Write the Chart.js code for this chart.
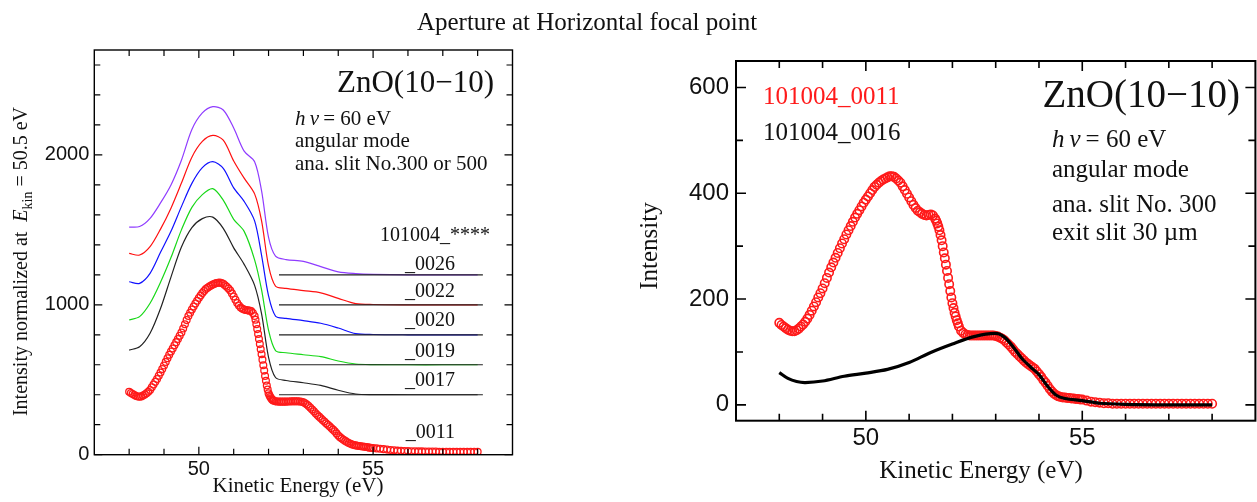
<!DOCTYPE html>
<html lang="en">
<head>
  <meta charset="UTF-8">
  <title>Aperture at Horizontal focal point</title>
  <script src="https://cdn.jsdelivr.net/npm/chart.js"></script>
  <style>
    body { margin: 0; background: #fff; width: 1257px; height: 502px; position: relative; overflow: hidden; font-family: 'Liberation Serif', serif; }
    #title { position: absolute; left: 0; top: 9px; width: 1174px; text-align: center; font-size: 25px; line-height: 25px; color: #111; }
    .panel { position: absolute; top: 0; height: 502px; }
    #left { left: 0; width: 620px; }
    #right { left: 620px; width: 637px; }
  </style>
</head>
<body>
  <div class="panel" id="left"><canvas id="leftChart" width="620" height="502"></canvas></div>
  <div class="panel" id="right"><canvas id="rightChart" width="637" height="502"></canvas></div>
  <div id="title">Aperture at Horizontal focal point</div>

  <script>
    // ---- data ----
    // kinetic energy grid for the circle-marker scans (eV)
    const energy = [
      48.00, 48.05, 48.10, 48.15, 48.20, 48.25, 48.30, 48.35, 48.40, 48.45,
      48.50, 48.55, 48.60, 48.65, 48.70, 48.75, 48.80, 48.85, 48.90, 48.95,
      49.00, 49.05, 49.10, 49.15, 49.20, 49.25, 49.30, 49.35, 49.40, 49.45,
      49.50, 49.55, 49.60, 49.65, 49.70, 49.75, 49.80, 49.85, 49.90, 49.95,
      50.00, 50.05, 50.10, 50.15, 50.20, 50.25, 50.30, 50.35, 50.40, 50.45,
      50.50, 50.55, 50.60, 50.65, 50.70, 50.75, 50.80, 50.85, 50.90, 50.95,
      51.00, 51.05, 51.10, 51.15, 51.20, 51.25, 51.30, 51.35, 51.40, 51.45,
      51.50, 51.55, 51.60, 51.65, 51.70, 51.75, 51.80, 51.85, 51.90, 51.95,
      52.00, 52.05, 52.10, 52.15, 52.20, 52.25, 52.30, 52.35, 52.40, 52.45,
      52.50, 52.55, 52.60, 52.65, 52.70, 52.75, 52.80, 52.85, 52.90, 52.95,
      53.00, 53.05, 53.10, 53.15, 53.20, 53.25, 53.30, 53.35, 53.40, 53.45,
      53.50, 53.55, 53.60, 53.65, 53.70, 53.75, 53.80, 53.85, 53.90, 53.95,
      54.00, 54.05, 54.10, 54.15, 54.20, 54.25, 54.30, 54.35, 54.40, 54.45,
      54.50, 54.55, 54.60, 54.65, 54.70, 54.75, 54.80, 54.85, 54.90, 54.95,
      55.0, 55.1, 55.2, 55.3, 55.4, 55.5, 55.6, 55.7, 55.8, 55.9,
      56.0, 56.1, 56.2, 56.3, 56.4, 56.5, 56.6, 56.7, 56.8, 56.9,
      57.0, 57.1, 57.2, 57.3, 57.4, 57.5, 57.6, 57.7, 57.8, 57.9,
      58.0
    ];
    // 101004_0011 raw intensity (right panel)
    const scan0011 = [
      155, 151, 148, 145, 142, 140, 139, 139, 141, 144,
      148, 152, 157, 163, 170, 178, 186, 194, 203, 211,
      220, 230, 240, 250, 260, 269, 278, 287, 296, 305,
      313, 322, 330, 338, 346, 354, 361, 368, 375, 382,
      388, 394, 400, 406, 412, 416, 420, 423, 426, 428,
      430, 432, 432, 431, 428, 424, 420, 413, 406, 399,
      392, 385, 378, 372, 367, 364, 361, 359, 358, 359,
      360, 358, 352, 343, 330, 311, 288, 265, 240, 215,
      192, 174, 160, 148, 140, 136, 133, 132, 131, 131,
      131, 131, 131, 131, 131, 131, 131, 131, 131, 131,
      130, 129, 127, 125, 122, 118, 114, 110, 105, 100,
      96, 92, 88, 84, 80, 77, 74, 71, 68, 63,
      58, 53, 47, 42, 36, 30, 25, 21, 18, 16,
      15, 14, 14, 13, 13, 12, 12, 11, 11, 10,
      10, 8, 6, 5, 4, 3, 3, 2, 2, 2,
      2, 2, 2, 2, 2, 2, 2, 2, 2, 2,
      2, 2, 2, 2, 2, 2, 2, 2, 2, 2,
      2
    ];
    // 101004_0011 normalized (left panel)
    const norm0011 = [
      420, 412, 405, 398, 392, 388, 387, 389, 395, 402,
      410, 420, 432, 450, 468, 486, 505, 526, 548, 571,
      595, 619, 643, 666, 688, 709, 730, 751, 772, 793,
      815, 842, 870, 898, 925, 947, 968, 988, 1008, 1027,
      1045, 1062, 1078, 1092, 1105, 1114, 1122, 1129, 1135, 1140,
      1145, 1147, 1148, 1145, 1140, 1131, 1120, 1108, 1095, 1076,
      1055, 1033, 1012, 995, 982, 974, 968, 965, 963, 961,
      958, 945, 925, 870, 805, 738, 670, 597, 525, 462,
      410, 385, 368, 360, 356, 355, 354, 354, 354, 354,
      354, 355, 355, 356, 356, 356, 356, 356, 355, 353,
      350, 343, 335, 325, 313, 302, 290, 277, 265, 254,
      243, 232, 221, 210, 200, 189, 178, 167, 156, 142,
      128, 117, 108, 100, 92, 85, 78, 73, 68, 65,
      62, 60, 58, 56, 55, 53, 51, 49, 47, 45,
      44, 42, 40, 37, 34, 31, 29, 27, 26, 25,
      24, 23, 23, 22, 22, 21, 21, 21, 21, 20,
      20, 20, 20, 20, 20, 20, 20, 20, 20, 20,
      20
    ];
    // extra samples on the steep edge (51.6 - 52.1 eV), same scan 0011
    const edgeEnergy = [51.625, 51.675, 51.725, 51.775, 51.825, 51.875, 51.925, 51.975, 52.025, 52.075, 52.125];
    const edgeScan0011 = [348, 337, 321, 300, 277, 253, 228, 203, 183, 167, 154];
    const edgeNorm0011 = [900, 838, 772, 704, 634, 561, 493, 435, 396, 376, 364];

    // energy grid for the offset line scans (left panel)
    const lineEnergy = [48.0, 48.3, 48.6, 48.9, 49.2, 49.5, 49.8, 50.1, 50.4, 50.7, 51.0, 51.3, 51.6,
                        51.8, 52.0, 52.2, 52.5, 53.0, 53.5, 54.0, 54.5, 55.0, 56.0, 57.0, 58.0];
    const norm0026 = [1518, 1522, 1577, 1680, 1800, 1965, 2170, 2280, 2322, 2300, 2180, 2025, 1955,
                      1760, 1450, 1325, 1302, 1290, 1255, 1220, 1208, 1203, 1200, 1200, 1200];
    const norm0022 = [1343, 1332, 1388, 1505, 1645, 1812, 1985, 2090, 2130, 2099, 1960, 1845, 1740,
                      1560, 1260, 1125, 1110, 1095, 1080, 1043, 1008, 1002, 1000, 1000, 1000];
    const norm0020 = [1154, 1143, 1210, 1350, 1490, 1655, 1810, 1915, 1955, 1911, 1780, 1690, 1560,
                      1330, 1060, 925, 910, 895, 877, 845, 808, 802, 800, 800, 800];
    const norm0019 = [899, 921, 1010, 1150, 1315, 1500, 1650, 1735, 1775, 1699, 1570, 1490, 1300,
                      1100, 830, 695, 680, 667, 654, 625, 605, 601, 600, 600, 600];
    const norm0017 = [698, 720, 810, 975, 1185, 1385, 1515, 1575, 1585, 1510, 1380, 1270, 1130,
                      940, 650, 515, 495, 480, 462, 430, 405, 401, 400, 400, 400];

    // offset baselines drawn under each scan label
    const baselineValues = [1200, 1000, 800, 600, 400];
    const baselineStart = 52.3, baselineEnd = 58.15;

    // 101004_0016 (right panel, black)
    const energy0016 = [48.0, 48.2, 48.4, 48.6, 49.0, 49.5, 50.0, 50.5, 51.0, 51.5, 52.0, 52.5, 53.0,
                        53.2, 53.4, 53.6, 53.8, 54.0, 54.2, 54.4, 54.6, 55.0, 55.4, 56.0, 57.0, 58.0];
    const scan0016 = [61, 50, 44, 42, 45, 54, 60, 67, 80, 99, 115, 129, 135,
                      128, 110, 88, 72, 57, 35, 18, 12, 8, 3, 1, 0, 0];

    // ticks
    const xTicks = [48, 49, 50, 51, 52, 53, 54, 55, 56, 57, 58];
    const xMajor = [50, 55];
    const leftYTicks = [0, 200, 400, 600, 800, 1000, 1200, 1400, 1600, 1800, 2000, 2200, 2400, 2600];
    const leftYMajor = [0, 1000, 2000];
    const rightYTicks = [0, 100, 200, 300, 400, 500, 600];
    const rightYMajor = [0, 200, 400, 600];

    const SERIF = "'Liberation Serif', 'Times New Roman', serif";
    const SANS = "'Liberation Sans', Arial, sans-serif";

    const pts = (xs, ys) => xs.map((x, i) => ({ x: x, y: ys[i] }));

    // draw a row of text pieces with different fonts
    function drawRuns(ctx, runs, x, y, align) {
      let total = 0;
      runs.forEach(r => { ctx.font = r.font; total += ctx.measureText(r.t).width; });
      let cx = align === 'right' ? x - total : align === 'center' ? x - total / 2 : x;
      ctx.textAlign = 'left';
      ctx.textBaseline = 'alphabetic';
      runs.forEach(r => {
        ctx.font = r.font;
        ctx.fillStyle = r.color || '#111';
        ctx.fillText(r.t, cx, y + (r.dy || 0));
        cx += ctx.measureText(r.t).width;
      });
    }

    function framePlugin(o) {
      return {
        id: 'frame',
        afterDatasetsDraw(chart) {
          const ctx = chart.ctx, a = chart.chartArea;
          const x = chart.scales.x, y = chart.scales.y;
          ctx.save();
          ctx.strokeStyle = '#000';
          ctx.lineWidth = o.tickWidth;
          ctx.beginPath();
          xTicks.forEach(v => {
            const px = x.getPixelForValue(v);
            const len = xMajor.includes(v) ? o.majorLen : o.minorLen;
            ctx.moveTo(px, a.bottom); ctx.lineTo(px, a.bottom - len);
            ctx.moveTo(px, a.top); ctx.lineTo(px, a.top + len);
          });
          o.yTicks.forEach(v => {
            const py = y.getPixelForValue(v);
            const len = o.yMajor.includes(v) ? o.majorLen : o.minorLen;
            ctx.moveTo(a.left, py); ctx.lineTo(a.left + len, py);
            ctx.moveTo(a.right, py); ctx.lineTo(a.right - len, py);
          });
          ctx.stroke();
          ctx.lineWidth = o.frameWidth;
          ctx.strokeRect(a.left, a.top, a.right - a.left, a.bottom - a.top);

          ctx.fillStyle = '#111';
          ctx.font = o.tickFont;
          ctx.textAlign = 'center';
          ctx.textBaseline = 'middle';
          xMajor.forEach(v => ctx.fillText(String(v), x.getPixelForValue(v), a.bottom + o.xLabelGap));
          ctx.textAlign = 'right';
          o.yMajor.forEach(v => ctx.fillText(String(v), a.left - o.yLabelGap, y.getPixelForValue(v)));

          o.texts(ctx, chart);
          ctx.restore();
        }
      };
    }

    const baseOptions = (yMin, yMax, pad) => ({
      responsive: false,
      animation: false,
      layout: { padding: pad, autoPadding: false },
      plugins: { legend: { display: false }, tooltip: { enabled: false } },
      scales: {
        x: { type: 'linear', min: 47, max: 59, display: false },
        y: { type: 'linear', min: yMin, max: yMax, display: false }
      }
    });

    const lineSet = (data, color) => ({
      data: data, showLine: true, borderColor: color, borderWidth: 1.2,
      pointRadius: 0, tension: 0.3, fill: false
    });

    const circleSet = (data, r, w) => ({
      data: data, showLine: false, pointStyle: 'circle',
      pointRadius: r, pointBorderWidth: w, pointBorderColor: '#ff1a1a',
      pointBackgroundColor: 'rgba(0,0,0,0)'
    });

    // ---- left panel ----
    const leftSets = baselineValues.map(v => ({
      data: [{ x: baselineStart, y: v }, { x: baselineEnd, y: v }],
      showLine: true, borderColor: '#222', borderWidth: 1.2, pointRadius: 0
    }));
    leftSets.push(
      lineSet(pts(lineEnergy, norm0026), '#8f3cff'),
      lineSet(pts(lineEnergy, norm0022), '#ff1010'),
      lineSet(pts(lineEnergy, norm0020), '#1010ff'),
      lineSet(pts(lineEnergy, norm0019), '#18d818'),
      lineSet(pts(lineEnergy, norm0017), '#222'),
      circleSet(pts(energy, norm0011), 3.4, 1.3),
      circleSet(pts(edgeEnergy, edgeNorm0011), 3.4, 1.3)
    );

    const leftLabels = [
      { t: '_0026', y: 270 }, { t: '_0022', y: 297 }, { t: '_0020', y: 326 },
      { t: '_0019', y: 357 }, { t: '_0017', y: 386 }, { t: '_0011', y: 438 }
    ];

    new Chart(document.getElementById('leftChart'), {
      type: 'scatter',
      data: { datasets: leftSets },
      options: baseOptions(0, 2700, { left: 94.3, top: 50, right: 107.5, bottom: 47.3 }),
      plugins: [framePlugin({
        yTicks: leftYTicks, yMajor: leftYMajor, majorLen: 8, minorLen: 6,
        tickWidth: 1.2, frameWidth: 1.4, tickFont: '20px ' + SANS,
        xLabelGap: 15, yLabelGap: 5,
        texts(ctx) {
          const f = s => s + 'px ' + SERIF;
          const fi = s => 'italic ' + s + 'px ' + SERIF;
          drawRuns(ctx, [{ t: 'ZnO(10\u221210)', font: f(31) }], 494, 92, 'right');
          drawRuns(ctx, [{ t: 'h', font: fi(21) }, { t: '\u2009\u03bd', font: fi(21) }, { t: '\u2009= 60 eV', font: f(21) }], 295, 125, 'left');
          drawRuns(ctx, [{ t: 'angular mode', font: f(21) }], 295, 147, 'left');
          drawRuns(ctx, [{ t: 'ana. slit No.300 or 500', font: f(21) }], 295, 170, 'left');
          drawRuns(ctx, [{ t: '101004_****', font: f(20) }], 380, 241, 'left');
          leftLabels.forEach(l => drawRuns(ctx, [{ t: l.t, font: f(20) }], 455, l.y, 'right'));
          drawRuns(ctx, [{ t: 'Kinetic Energy (eV)', font: f(21) }], 298, 492, 'center');
          // rotated y title
          ctx.save();
          ctx.translate(27, 261.5);
          ctx.rotate(-Math.PI / 2);
          drawRuns(ctx, [
            { t: 'Intensity normalized at  ', font: f(20) },
            { t: 'E', font: fi(20) },
            { t: 'kin', font: f(14), dy: 5 },
            { t: ' = 50.5 eV', font: f(20) }
          ], 0, 0, 'center');
          ctx.restore();
        }
      })]
    });

    // ---- right panel ----
    new Chart(document.getElementById('rightChart'), {
      type: 'scatter',
      data: {
        datasets: [
          {
            data: pts(energy0016, scan0016), showLine: true, borderColor: '#000',
            borderWidth: 3.2, pointRadius: 0, tension: 0.3
          },
          circleSet(pts(energy, scan0011), 4.2, 1.6),
          circleSet(pts(edgeEnergy, edgeScan0011), 4.2, 1.6)
        ]
      },
      options: baseOptions(-30, 650, { left: 116, top: 61, right: 1.6, bottom: 81.3 }),
      plugins: [framePlugin({
        yTicks: rightYTicks, yMajor: rightYMajor, majorLen: 10, minorLen: 7,
        tickWidth: 1.6, frameWidth: 2, tickFont: '24px ' + SANS,
        xLabelGap: 18, yLabelGap: 7,
        texts(ctx) {
          const f = s => s + 'px ' + SERIF;
          const fi = s => 'italic ' + s + 'px ' + SERIF;
          drawRuns(ctx, [{ t: '101004_0011', font: f(25), color: '#ff1a1a' }], 143, 104, 'left');
          drawRuns(ctx, [{ t: '101004_0016', font: f(25) }], 143, 140, 'left');
          drawRuns(ctx, [{ t: 'ZnO(10\u221210)', font: f(39) }], 620, 107, 'right');
          drawRuns(ctx, [{ t: 'h', font: fi(25) }, { t: '\u2009\u03bd', font: fi(25) }, { t: '\u2009= 60 eV', font: f(25) }], 432, 147, 'left');
          drawRuns(ctx, [{ t: 'angular mode', font: f(25) }], 432, 177, 'left');
          drawRuns(ctx, [{ t: 'ana. slit No. 300', font: f(25) }], 432, 212, 'left');
          drawRuns(ctx, [{ t: 'exit slit 30 \u00b5m', font: f(25) }], 432, 240, 'left');
          drawRuns(ctx, [{ t: 'Kinetic Energy (eV)', font: f(25) }], 361, 478, 'center');
          ctx.save();
          ctx.translate(37, 246);
          ctx.rotate(-Math.PI / 2);
          drawRuns(ctx, [{ t: 'Intensity', font: f(25) }], 0, 0, 'center');
          ctx.restore();
        }
      })]
    });
  </script>
</body>
</html>
